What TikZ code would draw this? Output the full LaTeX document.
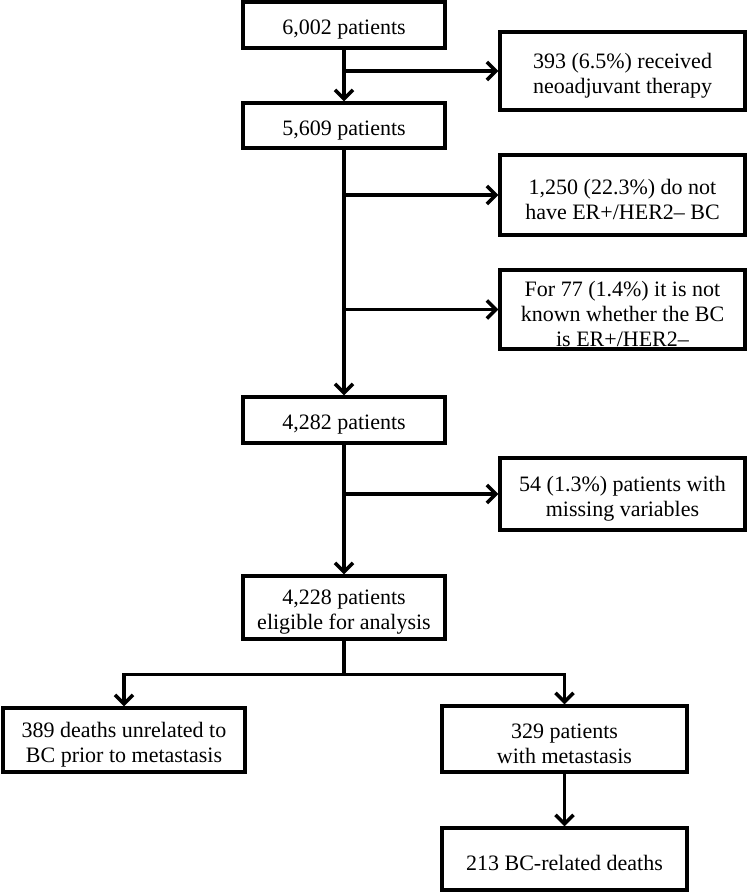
\documentclass[tikz,border=0pt]{standalone}
\usepackage{fontspec}
\setmainfont{Liberation Serif}
\usetikzlibrary{arrows.meta,positioning}
\newcommand{\tallstrut}{\rule{0pt}{24pt}}

\begin{document}
\begin{tikzpicture}[x=1pt,y=-1pt,
every node/.style={draw,line width=3.3pt,align=center,inner sep=0pt,
  minimum width=202pt,font=\fontsize{22}{25}\selectfont},
side/.style={minimum width=245pt},
arr/.style={line width=3.6pt,-{Straight Barb[length=9pt,width=18pt]}}]
\useasboundingbox (0,0) rectangle (748,894);
\node[minimum height=46pt] (P6002) at (344,25) {\tallstrut 6,002 patients};
\node[side,minimum height=78pt] (P393) at (622.5,71) {\tallstrut 393 (6.5\%) received\\neoadjuvant therapy};
\node[minimum height=45pt] (P5609) at (344,125.5) {\tallstrut 5,609 patients};
\node[side,minimum height=80pt] (P1250) at (622.5,195) {\tallstrut 1,250 (22.3\%) do not\\have ER+/HER2– BC};
\node[side,minimum height=79pt] (P77) at (622.5,309.5) {\tallstrut For 77 (1.4\%) it is not\\known whether the BC\\is ER+/HER2–};
\node[minimum height=46pt] (P4282) at (344,420) {\tallstrut 4,282 patients};
\node[side,minimum height=72pt] (P54) at (622.5,494) {\tallstrut 54 (1.3\%) patients with\\missing variables};
\node[minimum height=63pt] (P4228) at (344,607.5) {\tallstrut 4,228 patients\\eligible for analysis};
\node[minimum width=242pt,minimum height=64pt] (P389) at (124,740) {\tallstrut 389 deaths unrelated to\\BC prior to metastasis};
\node[side,minimum height=66pt] (P329) at (564.5,739) {\tallstrut 329 patients\\with metastasis};
\node[side,minimum height=62pt] (P213) at (564.5,859) {\tallstrut 213 BC-related deaths};
\coordinate[below=34pt of P4228] (split);
\draw[arr] (P6002) -- (P5609);
\draw[arr] (P6002.south |- P393.west) -- (P393.west);
\draw[arr] (P5609) -- (P4282);
\draw[arr] (P5609.south |- P1250.west) -- (P1250.west);
\draw[arr] (P5609.south |- P77.west) -- (P77.west);
\draw[arr] (P4282) -- (P4228);
\draw[arr] (P4282.south |- P54.west) -- (P54.west);
\draw[line width=3.6pt] (P4228) -- (split);
\draw[arr] (split) -| (P389);
\draw[arr] (split) -| (P329);
\draw[arr] (P329) -- (P213);
\end{tikzpicture}
\end{document}
